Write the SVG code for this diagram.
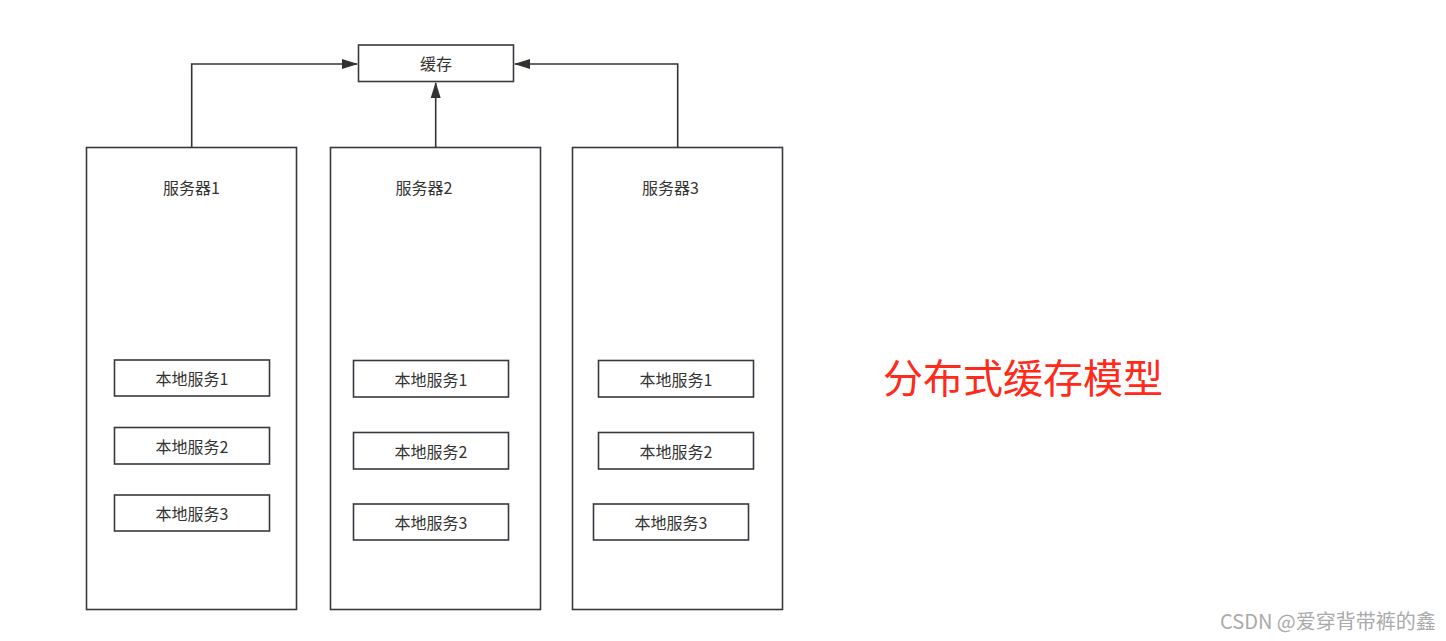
<svg xmlns="http://www.w3.org/2000/svg" width="1446" height="641" viewBox="0 0 1446 641">
<style>
.box{fill:#fff;stroke:#36393d;stroke-width:1.6}
.t{font-family:"Noto Sans CJK SC","Liberation Sans",sans-serif;font-size:16px;fill:#333;text-anchor:middle;dominant-baseline:central}
.c{fill:none;stroke:#333;stroke-width:1.6}
</style>
<defs>
<marker id="ah" markerWidth="16" markerHeight="12" refX="15" refY="5" orient="auto" markerUnits="userSpaceOnUse" viewBox="0 0 16 10">
<path d="M0,0 L16,5 L0,10 Z" fill="#333"/>
</marker>
</defs>
<rect width="1446" height="641" fill="#fff"/>
<g id="cache"><rect class="box" x="358.5" y="45" width="155" height="36.5"/><text class="t" x="436" y="63">缓存</text></g>
<g id="server1"><rect class="box" x="86.5" y="147.5" width="210" height="462"/><text class="t" x="191.5" y="187">服务器1</text></g>
<g id="server2"><rect class="box" x="330.5" y="147.5" width="210" height="462"/><text class="t" x="424" y="187">服务器2</text></g>
<g id="server3"><rect class="box" x="572.5" y="147.5" width="210" height="462"/><text class="t" x="670.5" y="187">服务器3</text></g>
<g id="s1-l1"><rect class="box" x="114.5" y="360" width="155" height="36"/><text class="t" x="192" y="378">本地服务1</text></g>
<g id="s1-l2"><rect class="box" x="114.5" y="427.5" width="155" height="36.5"/><text class="t" x="192" y="446">本地服务2</text></g>
<g id="s1-l3"><rect class="box" x="114.5" y="495" width="155" height="36"/><text class="t" x="192" y="513">本地服务3</text></g>
<g id="s2-l1"><rect class="box" x="353.5" y="360.5" width="155" height="36.5"/><text class="t" x="431" y="379">本地服务1</text></g>
<g id="s2-l2"><rect class="box" x="353.5" y="432.5" width="155" height="36.5"/><text class="t" x="431" y="451">本地服务2</text></g>
<g id="s2-l3"><rect class="box" x="353.5" y="504" width="155" height="36"/><text class="t" x="431" y="522">本地服务3</text></g>
<g id="s3-l1"><rect class="box" x="598.5" y="360.5" width="155" height="36.5"/><text class="t" x="676" y="379">本地服务1</text></g>
<g id="s3-l2"><rect class="box" x="598.5" y="432.5" width="155" height="36.5"/><text class="t" x="676" y="451">本地服务2</text></g>
<g id="s3-l3"><rect class="box" x="593.5" y="504" width="155" height="36"/><text class="t" x="671" y="522">本地服务3</text></g>
<g id="connectors">
<path class="c" d="M191.7,147.5 V64 H357" marker-end="url(#ah)"/>
<path class="c" d="M435.7,147.5 V83" marker-end="url(#ah)"/>
<path class="c" d="M677.7,147.5 V64 H515" marker-end="url(#ah)"/>
</g>
<text x="883" y="393" font-family="Noto Sans CJK SC,sans-serif" font-size="40" fill="#ff2a1a">分布式缓存模型</text>
<text x="1220" y="629" font-family="Noto Sans CJK SC,sans-serif" font-size="20" fill="#aaa">CSDN @爱穿背带裤的鑫</text>
</svg>
